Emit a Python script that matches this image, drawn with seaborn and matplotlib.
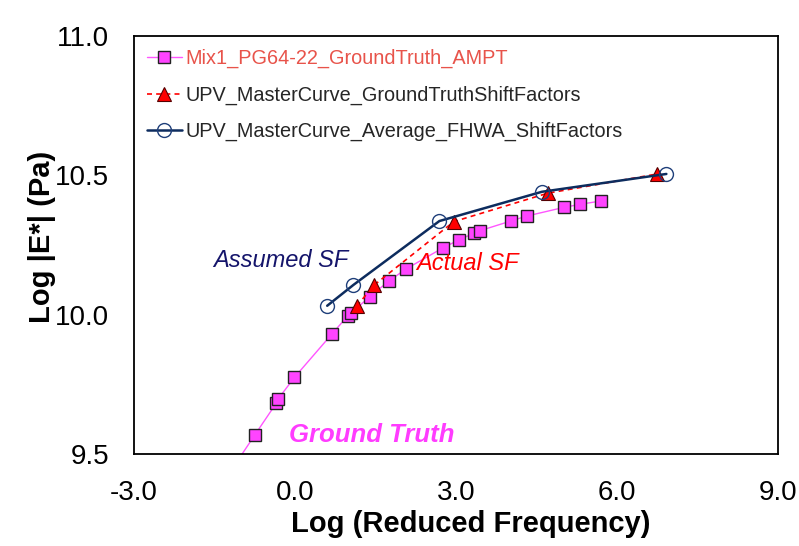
import matplotlib
matplotlib.use("Agg")
import matplotlib.pyplot as plt
import seaborn as sns
import pandas as pd

# Ground truth (AMPT) master curve
gt_x = [-1.40, -0.75, -0.35, -0.32, -0.01, 0.69, 0.98, 1.05, 1.39, 1.76, 2.06,
        2.75, 3.05, 3.33, 3.44, 4.02, 4.32, 5.01, 5.31, 5.70]
gt_y = [9.38, 9.568, 9.682, 9.696, 9.775, 9.931, 9.995, 10.005, 10.065, 10.122, 10.163,
        10.239, 10.268, 10.292, 10.301, 10.336, 10.354, 10.385, 10.396, 10.408]

# UPV master curve with ground-truth shift factors
upv_gt_x = [1.15, 1.48, 2.96, 4.71, 6.75]
upv_gt_y = [10.031, 10.107, 10.334, 10.436, 10.505]

# UPV master curve with average FHWA shift factors
upv_avg_x = [0.60, 1.09, 2.69, 4.60, 6.92]
upv_avg_y = [10.032, 10.107, 10.336, 10.441, 10.505]

labels = ["Mix1_PG64-22_GroundTruth_AMPT",
          "UPV_MasterCurve_GroundTruthShiftFactors",
          "UPV_MasterCurve_Average_FHWA_ShiftFactors"]

x_ticks = [-3.0, 0.0, 3.0, 6.0, 9.0]
y_ticks = [9.5, 10.0, 10.5, 11.0]

sns.set_theme(style="white")
plt.rcParams["font.family"] = ["Liberation Sans", "DejaVu Sans"]

fig = plt.figure(figsize=(7.99, 5.46), dpi=100)
ax = fig.add_axes([0.1677, 0.1685, 0.8060, 0.7655])

df_gt = pd.DataFrame({"x": gt_x, "y": gt_y})
df_a = pd.DataFrame({"x": upv_gt_x, "y": upv_gt_y})
df_b = pd.DataFrame({"x": upv_avg_x, "y": upv_avg_y})

sns.lineplot(data=df_gt, x="x", y="y", ax=ax, sort=False, color="#FF55FF", lw=1.0,
             marker="s", markersize=9, markerfacecolor="#FF44FF", markeredgecolor="#222222",
             markeredgewidth=1.0, label=labels[0])
sns.lineplot(data=df_a, x="x", y="y", ax=ax, sort=False, color="#FF0000", lw=1.2,
             linestyle=(0, (3, 2.5)), marker="^", markersize=10, markerfacecolor="#FF0000",
             markeredgecolor="#550000", markeredgewidth=0.8, label=labels[1])
sns.lineplot(data=df_b, x="x", y="y", ax=ax, sort=False, color="#0D2C5E", lw=1.8,
             marker="o", markersize=10, markerfacecolor="none", markeredgecolor="#1F3F7A",
             markeredgewidth=1.0, label=labels[2])

ax.set_xlim(-3, 9)
ax.set_ylim(9.5, 11.0)
ax.set_xticks(x_ticks)
ax.set_yticks(y_ticks)
ax.set_xticklabels([f"{v:.1f}" for v in x_ticks])
ax.set_yticklabels([f"{v:.1f}" for v in y_ticks])
ax.tick_params(axis="both", length=0, labelsize=20, colors="black")
ax.tick_params(axis="x", pad=18.5)
ax.tick_params(axis="y", pad=18)

for s in ax.spines.values():
    s.set_color("black")
    s.set_linewidth(1.3)
    s.set_visible(True)

ax.set_xlabel("Log (Reduced Frequency)", fontsize=21, fontweight="bold", color="black")
ax.set_ylabel("Log |E*| (Pa)", fontsize=21, fontweight="bold", color="black")
ax.xaxis.set_label_coords(0.523, -0.135)
ax.yaxis.set_label_coords(-0.121, 0.52)
ax.grid(False)

ax.text(-0.265, 10.196, "Assumed SF", fontsize=17, style="italic", color="#15156B",
        ha="center", va="center")
ax.text(3.21, 10.185, "Actual SF", fontsize=17, style="italic", color="#FF0000",
        ha="center", va="center")
ax.text(1.43, 9.568, "Ground Truth", fontsize=18.5, style="italic", fontweight="bold",
        color="#FF3CFF", ha="center", va="center")

leg = ax.legend(loc="upper left", bbox_to_anchor=(0.0, 1.0), frameon=False, fontsize=14.3,
                handlelength=1.75, handletextpad=0.2, labelspacing=0.87, borderpad=0.45,
                borderaxespad=0.2)
leg.get_texts()[0].set_color("#E8534A")

fig.savefig("out.png", dpi=100)
